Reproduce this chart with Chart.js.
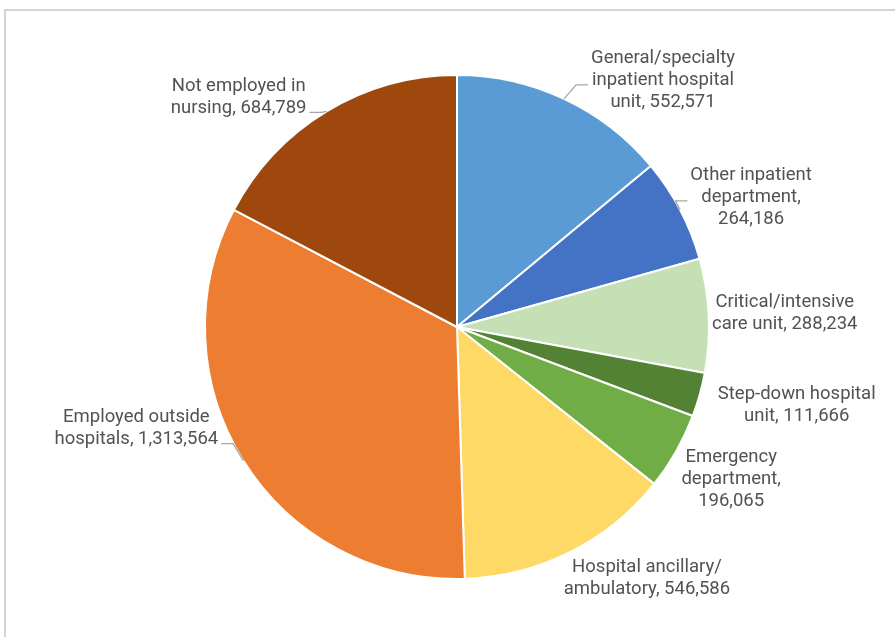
<!DOCTYPE html>
<html>
<head>
<meta charset="utf-8">
<script src="https://cdn.jsdelivr.net/npm/chart.js@4"></script>
<style>
  html, body { margin: 0; padding: 0; background: #fff; }
</style>
</head>
<body>
<canvas id="chartNurses" width="895" height="637"></canvas>
<script>
// ---- data ----
const categories = [
  'General/specialty\ninpatient hospital\nunit',
  'Other inpatient\ndepartment',
  'Critical/intensive\ncare unit',
  'Step-down hospital\nunit',
  'Emergency\ndepartment',
  'Hospital ancillary/\nambulatory',
  'Employed outside\nhospitals',
  'Not employed in\nnursing'
];
const nurses = [552571, 264186, 288234, 111666, 196065, 546586, 1313564, 684789];
const sliceColors = ['#5B9BD5', '#4472C4', '#C5E0B4', '#548235', '#70AD47', '#FFD966', '#ED7D31', '#9E480E'];

// label placement (offset of label centre from the slice's outer mid point)
const labelLayout = [
  { dx: 99,   dy: -18, leader: 4,    valueBreak: false },
  { dx: 71,   dy: -12, leader: 3,    valueBreak: true },
  { dx: 76,   dy: -2,  leader: null, valueBreak: false },
  { dx: 97,   dy: 11,  leader: null, valueBreak: false },
  { dx: 55,   dy: 28,  leader: null, valueBreak: true },
  { dx: 77,   dy: 26,  leader: null, valueBreak: false },
  { dx: -107, dy: -32, leader: 15,   valueBreak: false },
  { dx: -88,  dy: -14, leader: 15,   valueBreak: false }
];

function labelLines(i) {
  var v = nurses[i].toLocaleString('en-US');
  var txt = categories[i] + ',' + (labelLayout[i].valueBreak ? '\n' : ' ') + v;
  return txt.split('\n');
}

// frame lines (top and left) like the source screenshot
const frame = {
  id: 'frame',
  beforeDraw(chart) {
    var c = chart.ctx;
    c.save();
    c.strokeStyle = '#d4d4d4';
    c.lineWidth = 2;
    c.beginPath();
    c.moveTo(5, chart.height);
    c.lineTo(5, 10);
    c.lineTo(chart.width, 10);
    c.stroke();
    c.restore();
  }
};

// labels outside the pie with leader lines
const outsideLabels = {
  id: 'outsideLabels',
  afterDatasetsDraw(chart) {
    var c = chart.ctx;
    var meta = chart.getDatasetMeta(0);
    c.save();
    c.font = '18.5px Roboto';
    c.fillStyle = '#525252';
    c.textAlign = 'center';
    c.textBaseline = 'middle';
    meta.data.forEach(function (arc, i) {
      var p = arc.getProps(['x', 'y', 'startAngle', 'endAngle', 'outerRadius'], true);
      var mid = (p.startAngle + p.endAngle) / 2;
      var ex = p.x + Math.cos(mid) * p.outerRadius;
      var ey = p.y + Math.sin(mid) * p.outerRadius;
      var lay = labelLayout[i];
      var cx = ex + lay.dx;
      var cy = ey + lay.dy;
      var lines = labelLines(i);
      var lh = 22;
      var w = Math.max.apply(null, lines.map(function (l) { return c.measureText(l).width; }));
      lines.forEach(function (l, k) {
        c.fillText(l, cx, cy + (k - (lines.length - 1) / 2) * lh);
      });
      if (lay.leader !== null) {
        var side = cx > p.x ? -1 : 1;
        var endX = cx + side * (w / 2 + 3);
        var ly = cy + lay.leader;
        c.strokeStyle = '#a6a6a6';
        c.lineWidth = 1.3;
        c.beginPath();
        c.moveTo(ex, ey);
        c.lineTo(endX + side * 12, ly);
        c.lineTo(endX, ly);
        c.stroke();
      }
    });
    c.restore();
  }
};

var ctx = document.getElementById('chartNurses').getContext('2d');
var chart = new Chart(ctx, {
  type: 'pie',
  data: {
    labels: categories,
    datasets: [{
      data: nurses,
      backgroundColor: sliceColors,
      borderColor: '#ffffff',
      borderWidth: 2,
      hoverBorderWidth: 2
    }]
  },
  options: {
    responsive: false,
    animation: false,
    devicePixelRatio: 1,
    layout: { padding: { left: 204, right: 185, top: 74, bottom: 57 } },
    plugins: {
      legend: { display: false },
      tooltip: { enabled: false }
    }
  },
  plugins: [frame, outsideLabels]
});
</script>
</body>
</html>
